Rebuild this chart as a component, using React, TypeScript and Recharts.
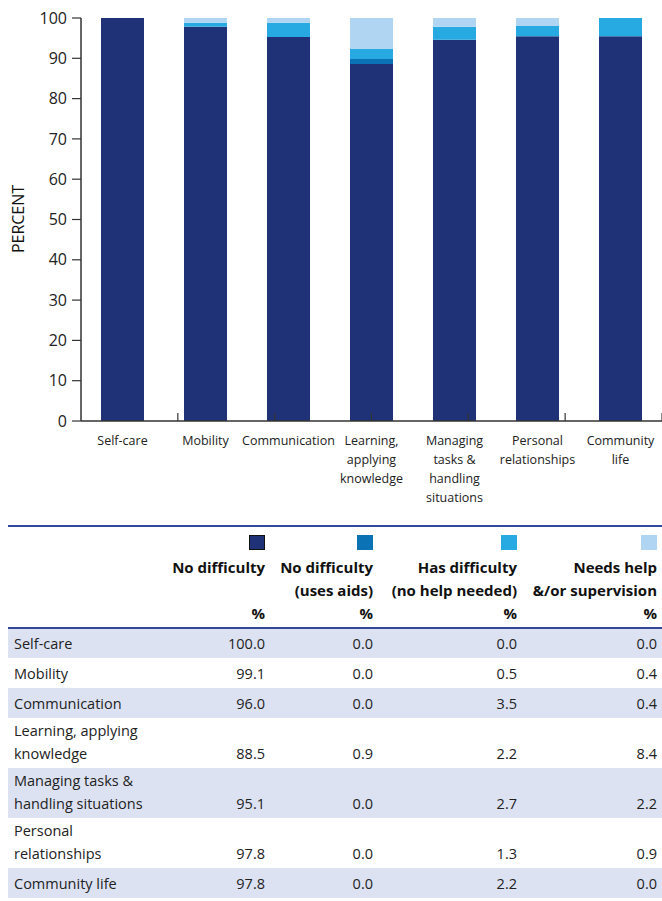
import React from 'react';
import { BarChart, Bar, XAxis, YAxis } from 'recharts';

// chart categories (\n = line break in the axis label)
const categories = [
    'Self-care',
    'Mobility',
    'Communication',
    'Learning,\napplying\nknowledge',
    'Managing\ntasks &\nhandling\nsituations',
    'Personal\nrelationships',
    'Community\nlife',
];

// bar segments as drawn in the chart
const noDifficulty = [100, 97.8, 95.3, 88.6, 94.6, 95.5, 95.5];
const usesAids = [0, 0, 0, 1.2, 0, 0, 0];
const hasDifficulty = [0, 1.0, 3.5, 2.5, 3.2, 2.5, 4.5];
const needsHelp = [0, 1.2, 1.2, 7.7, 2.2, 2.0, 0];

const yTicks = [0, 10, 20, 30, 40, 50, 60, 70, 80, 90, 100];
const separatorTicks = [1, 2, 3, 4, 5, 6];

// table below the chart
const tableRows = [
    'Self-care',
    'Mobility',
    'Communication',
    'Learning, applying\nknowledge',
    'Managing tasks &\nhandling situations',
    'Personal\nrelationships',
    'Community life',
];
const tableNoDifficulty = ['100.0', '99.1', '96.0', '88.5', '95.1', '97.8', '97.8'];
const tableUsesAids = ['0.0', '0.0', '0.0', '0.9', '0.0', '0.0', '0.0'];
const tableHasDifficulty = ['0.0', '0.5', '3.5', '2.2', '2.7', '1.3', '2.2'];
const tableNeedsHelp = ['0.0', '0.4', '0.4', '8.4', '2.2', '0.9', '0.0'];

const seriesNames = ['No difficulty', 'No difficulty\n(uses aids)', 'Has difficulty\n(no help needed)', 'Needs help\n&/or supervision'];

const NAVY = '#1f3278';
const MID = '#0c72b6';
const LIGHT = '#27aae1';
const PALE = '#b0d5f3';
const colors = [NAVY, MID, LIGHT, PALE];

const FONT = '"Open Sans", "Noto Sans", sans-serif';
const AXIS = '#333333';

const data = categories.map((c, i) => ({
    category: c,
    noDifficulty: noDifficulty[i],
    usesAids: usesAids[i],
    hasDifficulty: hasDifficulty[i],
    needsHelp: needsHelp[i],
}));

const CategoryTick = (props: any) => {
    const { x, y, payload } = props;
    const lines = String(payload.value).split('\n');
    return (
        <text x={x} y={y + 24} textAnchor="middle" fill="#222" fontSize={12.5} fontFamily={FONT}>
            {lines.map((l, i) => (
                <tspan key={i} x={x} dy={i === 0 ? 0 : 19}>{l}</tspan>
            ))}
        </text>
    );
};

const PercentLabel = () => (
    <text x={18} y={219} transform="rotate(-90, 18, 219)" textAnchor="middle" dominantBaseline="central"
        fill="#111" fontSize={16} fontFamily={FONT}>
        PERCENT
    </text>
);

const cellBase: React.CSSProperties = {
    padding: '0 6px',
    verticalAlign: 'bottom',
    whiteSpace: 'pre-line',
};

export default function App() {
    const tableCols = [tableNoDifficulty, tableUsesAids, tableHasDifficulty, tableNeedsHelp];
    const colWidths = [108, 108, 144, 140];

    return (
        <div style={{ position: 'relative', width: 662, height: 901, overflow: 'hidden', background: '#fff', fontFamily: FONT }}>
            <style>{'body{margin:0}'}</style>
            <div style={{ position: 'absolute', left: 0, top: 0 }}>
                <BarChart width={662} height={511} data={data} margin={{ top: 18, right: 0, left: 0, bottom: 0 }}>
                    <XAxis
                        xAxisId="cat"
                        dataKey="category"
                        height={90}
                        tickLine={false}
                        tickSize={0}
                        tickMargin={0}
                        interval={0}
                        axisLine={{ stroke: AXIS, strokeWidth: 1.5 }}
                        tick={<CategoryTick />}
                    />
                    <XAxis
                        xAxisId="sep"
                        type="number"
                        domain={[0, 7]}
                        ticks={separatorTicks}
                        mirror
                        tickSize={8}
                        axisLine={false}
                        tickLine={{ stroke: AXIS, strokeWidth: 1.2 }}
                        tickFormatter={() => ''}
                    />
                    <YAxis
                        type="number"
                        domain={[0, 100]}
                        ticks={yTicks}
                        width={81}
                        tickSize={9}
                        tickMargin={5}
                        interval={0}
                        axisLine={{ stroke: AXIS, strokeWidth: 1.5 }}
                        tickLine={{ stroke: AXIS, strokeWidth: 1.2 }}
                        tick={{ fill: '#222', fontSize: 16, fontFamily: FONT }}
                        label={<PercentLabel />}
                    />
                    <Bar xAxisId="cat" dataKey="noDifficulty" stackId="a" fill={NAVY} barSize={43} isAnimationActive={false} />
                    <Bar xAxisId="cat" dataKey="usesAids" stackId="a" fill={MID} barSize={43} isAnimationActive={false} />
                    <Bar xAxisId="cat" dataKey="hasDifficulty" stackId="a" fill={LIGHT} barSize={43} isAnimationActive={false} />
                    <Bar xAxisId="cat" dataKey="needsHelp" stackId="a" fill={PALE} barSize={43} isAnimationActive={false} />
                </BarChart>
            </div>

            <table style={{
                position: 'absolute', left: 8, top: 525, width: 654, borderCollapse: 'collapse',
                fontSize: 14.5, color: '#222', tableLayout: 'fixed',
            }}>
                <colgroup>
                    <col style={{ width: 154 }} />
                    {colWidths.map((w, i) => <col key={i} style={{ width: w }} />)}
                </colgroup>
                <thead>
                    <tr style={{ height: 102, borderTop: '2.5px solid #34489a', borderBottom: '2.5px solid #34489a' }}>
                        <th style={cellBase}></th>
                        {seriesNames.map((name, i) => (
                            <th key={i} style={{ padding: '0 5px 2px 0', verticalAlign: 'top', fontWeight: 700, fontSize: 15, color: '#111', lineHeight: '23px' }}>
                                <div style={{ display: 'flex', flexDirection: 'column', alignItems: 'flex-end', whiteSpace: 'nowrap', textAlign: 'right' }}>
                                    <div style={{
                                        width: 16, height: 15, background: colors[i], marginTop: 8, marginBottom: 6,
                                        boxSizing: 'border-box', border: i === 0 ? '1.5px solid #111' : 'none',
                                    }} />
                                    <div style={{ height: 46, textAlign: 'right' }}>
                                        {name.split('\n').map((l, k) => <div key={k}>{l}</div>)}
                                    </div>
                                    <div>%</div>
                                </div>
                            </th>
                        ))}
                    </tr>
                </thead>
                <tbody>
                    {tableRows.map((r, i) => {
                        const twoLine = r.includes('\n');
                        return (
                            <tr key={i} style={{ height: twoLine ? 50 : 30, background: i % 2 === 0 ? '#dde2f3' : '#fff' }}>
                                <td style={{ ...cellBase, lineHeight: '23px', paddingBottom: 3 }}>{r}</td>
                                {tableCols.map((col, k) => (
                                    <td key={k} style={{ ...cellBase, textAlign: 'right', lineHeight: '23px', paddingBottom: 3, paddingRight: 5 }}>{col[i]}</td>
                                ))}
                            </tr>
                        );
                    })}
                </tbody>
            </table>
        </div>
    );
}
